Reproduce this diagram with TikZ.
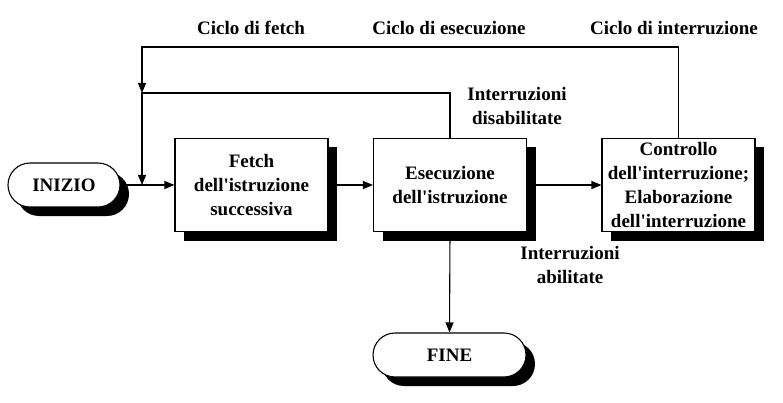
\documentclass[tikz,border=0pt]{standalone}
\usepackage{fontspec}
\setmainfont{Liberation Serif}
\usetikzlibrary{shapes.misc,shadows,arrows.meta}
\newcommand{\ap}{\textquotesingle}
\begin{document}
\begin{tikzpicture}[x=1pt,y=-1pt,
  font=\bfseries\fontsize{19}{24}\selectfont,
  shad/.style={drop shadow={shadow xshift=9pt,shadow yshift=-9pt,opacity=1,fill=black}},
  box/.style={draw,line width=1.1pt,fill=white,minimum width=153pt,minimum height=93pt,
    align=center,inner sep=0pt,shad},
  term/.style={rounded rectangle,draw,line width=1.1pt,fill=white,minimum height=44pt,
    inner sep=0pt,shad},
  line/.style={line width=1.1pt},
  arr/.style={line,-{Triangle[length=10pt,width=8pt]}},
  lbl/.style={align=center,inner sep=0pt}]
\useasboundingbox (0,0) rectangle (783,403);

\node[term,minimum width=112pt] (inizio) at (64,185) {INIZIO};
\node[box] (fetch) at (251.5,185) {Fetch\\dell\ap istruzione\\successiva};
\node[box] (esec) at (450,185) {Esecuzione\\dell\ap istruzione};
\node[box] (ctrl) at (678.5,185) {Controllo\\dell\ap interruzione;\\Elaborazione\\dell\ap interruzione};
\node[term,minimum width=153pt] (fine) at (449.5,355) {FINE};

\node[lbl] (lf) at (251,28) {Ciclo di fetch};
\node[lbl] (le) at (449,28) {Ciclo di esecuzione};
\node[lbl] (li) at (674,28) {Ciclo di interruzione};
\node[lbl] (ld) at (517,106) {Interruzioni\\disabilitate};
\node[lbl] (la) at (570,265) {Interruzioni\\abilitate};

\coordinate (topL) at (142,47);
\coordinate (j1) at (142,93);
\coordinate (j2) at (142,185);

\draw[arr] (ctrl.north) |- (topL) -- (j1);
\draw[arr] (esec.north) |- (j1) -- (j2);
\draw[arr] (inizio.east) -- (fetch.west);
\draw[arr] (fetch.east) -- (esec.west);
\draw[arr] (esec.east) -- (ctrl.west);
\draw[arr] (esec.south) -- (fine.north);
\end{tikzpicture}
\end{document}
